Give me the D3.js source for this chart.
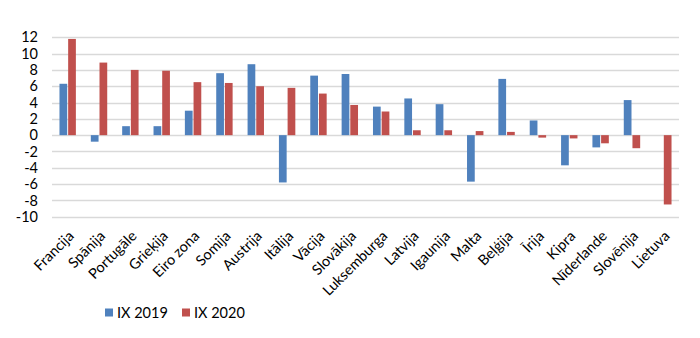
<!DOCTYPE html>
<html><head><meta charset="utf-8">
<script src="https://cdn.jsdelivr.net/npm/d3@7"></script>
<style>body{margin:0;background:#fff;} text{font-family:Lato,"Open Sans",sans-serif;fill:#000;}</style>
</head><body>
<svg id="c" width="700" height="338"></svg>
<script>
const categories = ["Francija","Spānija","Portugāle","Grieķija","Eiro zona","Somija","Austrija","Itālija","Vācija","Slovākija","Luksemburga","Latvija","Igaunija","Malta","Beļģija","Īrija","Kipra","Nīderlande","Slovēnija","Lietuva"];
const seriesNames = ["IX 2019","IX 2020"];
const ix2019 = [6.3,-0.8,1.1,1.1,3.0,7.6,8.7,-5.8,7.3,7.5,3.5,4.5,3.8,-5.7,6.9,1.8,-3.7,-1.5,4.3,null];
const ix2020 = [11.8,8.9,8.0,7.9,6.5,6.4,6.0,5.8,5.1,3.7,2.9,0.6,0.6,0.5,0.4,-0.3,-0.4,-1.0,-1.6,-8.5];
const yTicks = [12,10,8,6,4,2,0,-2,-4,-6,-8,-10];
const colors = ["#4f81bd","#c0504d"];

(function(){
const svg = d3.select("#c");
const mLeft = 52, mRight = 679, mTop = 37.3, mBottom = 216.7;
const FS = 14.5, FF = 'Lato,"Open Sans",sans-serif';
const y = d3.scaleLinear().domain([-10,12]).range([mBottom, mTop]);
const x = d3.scaleBand().domain(categories).range([mLeft, mRight]).paddingInner(0.477).paddingOuter(0.2385);
const xs = d3.scaleBand().domain(seriesNames).range([0, x.bandwidth()]).paddingInner(0.11);

// grid
svg.append("g").selectAll("line").data(yTicks).join("line")
  .attr("x1", mLeft).attr("x2", mRight)
  .attr("y1", d => Math.round(y(d)) + 0.5).attr("y2", d => Math.round(y(d)) + 0.5)
  .attr("stroke", "#d9d9d9").attr("stroke-width", 1.3);

// y axis labels
const yAxis = d3.axisLeft(y).tickValues(yTicks).tickSize(0).tickPadding(0).tickFormat(d => d < 0 ? "-" + Math.abs(d) : d);
const ya = svg.append("g").attr("transform", `translate(38,0)`).call(yAxis);
ya.select(".domain").remove();
ya.selectAll("text").attr("font-size", FS).attr("font-family", FF).attr("fill", "#000");

// bars
const data = [ix2019, ix2020];
data.forEach((vals, si) => {
  svg.append("g").selectAll("rect").data(categories.map((c, i) => ({c, v: vals[i]})).filter(d => d.v !== null)).join("rect")
    .attr("x", d => x(d.c) + xs(seriesNames[si]))
    .attr("width", xs.bandwidth())
    .attr("y", d => Math.min(y(d.v), y(0)))
    .attr("height", d => Math.abs(y(d.v) - y(0)))
    .attr("fill", colors[si]);
});

// x labels
const xAxis = d3.axisBottom(x).tickSize(0).tickPadding(0);
const xa = svg.append("g").attr("transform", `translate(0,${mBottom + 13})`).call(xAxis);
xa.select(".domain").remove();
xa.selectAll("text")
  .attr("font-size", FS).attr("font-family", FF).attr("fill", "#000")
  .attr("text-anchor", "end").attr("dy", "0.7em").attr("y", 0)
  .attr("transform", "translate(0,0) rotate(-45)");

// legend
const leg = svg.append("g");
const lx = [105, 182];
seriesNames.forEach((s, i) => {
  leg.append("rect").attr("x", lx[i]).attr("y", 308.5).attr("width", 8).attr("height", 8).attr("fill", colors[i]);
  leg.append("text").attr("x", lx[i] + 12).attr("y", 318).attr("font-size", FS).attr("font-family", FF).text(s);
});
})();
</script>
</body></html>
